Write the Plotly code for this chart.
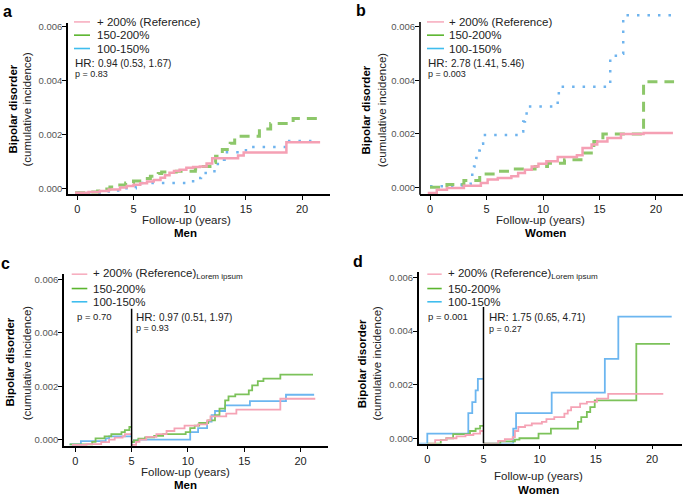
import plotly.graph_objects as go

W, H = 685, 496

# ---------------- data ----------------
SERIES = ["+ 200% (Reference)", "150-200%", "100-150%"]
X_TICKS = [0, 5, 10, 15, 20]
Y_TICKS = [0.0, 0.002, 0.004, 0.006]
Y_TICKTEXT = ["0.000", "0.002", "0.004", "0.006"]
LANDMARK = 5
LANDMARK_TOP = 0.0049

PANEL_LETTERS = ["a", "b", "c", "d"]
GROUPS = ["Men", "Women", "Men", "Women"]
X_TITLE = "Follow-up (years)"
Y_TITLE_1 = "Bipolar disorder"
Y_TITLE_2 = "(cumulative incidence)"
SUBSCRIPT = "Lorem ipsum"
HR_TEXT = ["0.94 (0.53, 1.67)", "2.78 (1.41, 5.46)", "0.97 (0.51, 1.97)", "1.75 (0.65, 4.71)"]
P_TEXT = ["0.83", "0.003", "0.93", "0.27"]
P_EARLY = ["", "", "0.70", "0.001"]

# panel a (men, full follow-up)
A_REF_T = [-0.2, 1.0, 2.0, 2.8, 3.8, 4.4, 5.0, 5.6, 6.2, 6.8, 7.4, 7.8, 8.2, 8.6, 9.1, 9.7, 10.3, 10.9, 11.5, 12.0, 14.3, 14.8, 18.6, 21.6]
A_REF_Y = [-0.00017, -0.00014, -0.0001, -0.00005, 0.00003, 0.00008, 0.00013, 0.00019, 0.00025, 0.00031, 0.00039, 0.00048, 0.00058, 0.00064, 0.00069, 0.00076, 0.00079, 0.00081, 0.00092, 0.00112, 0.00122, 0.00133, 0.00171, 0.00171]
A_MID_T = [-0.2, 1.2, 1.8, 2.4, 2.9, 3.6, 4.3, 5.0, 5.8, 6.5, 7.2, 7.5, 8.8, 10.5, 11.2, 11.8, 12.3, 12.9, 13.6, 14.0, 16.2, 17.2, 19.2, 21.6]
A_MID_Y = [-0.00017, -0.00014, -0.0001, -0.00003, 0.00005, 0.00012, 0.0002, 0.00027, 0.00036, 0.00045, 0.00055, 0.0006, 0.00063, 0.00072, 0.00081, 0.00096, 0.00119, 0.00144, 0.00167, 0.00193, 0.0022, 0.00241, 0.00259, 0.00259]
A_LOW_T = [0.0, 2.8, 4.2, 5.2, 5.6, 10.3, 11.0, 12.2, 12.5, 13.1, 15.0, 18.7, 21.2]
A_LOW_Y = [-0.00017, -0.00008, 0.0, 0.00006, 0.0002, 0.00038, 0.00057, 0.00075, 0.00106, 0.00134, 0.00153, 0.00176, 0.00176]

# panel b (women, full follow-up)
B_REF_T = [-0.2, 0.6, 1.5, 3.0, 4.5, 5.1, 6.0, 7.2, 7.8, 8.4, 9.0, 9.6, 10.3, 11.3, 13.0, 13.5, 14.3, 14.8, 15.7, 16.9, 18.9, 21.5]
B_REF_Y = [-0.00021, -0.00009, -0.00003, 0.00006, 0.00016, 0.00029, 0.00035, 0.00041, 0.00053, 0.00066, 0.00078, 0.00088, 0.00097, 0.00113, 0.0012, 0.00147, 0.0016, 0.00171, 0.00184, 0.00199, 0.00203, 0.00203]
B_MID_T = [0.0, 1.5, 3.0, 4.4, 5.8, 7.3, 9.3, 10.4, 11.9, 13.6, 14.5, 15.3, 18.9, 21.6]
B_MID_Y = [0.0, 0.0001, 0.00025, 0.0005, 0.0006, 0.00068, 0.00078, 0.0009, 0.00103, 0.00128, 0.00171, 0.00199, 0.00395, 0.00395]
B_LOW_T = [0.0, 2.8, 3.6, 3.9, 4.1, 4.25, 4.4, 4.7, 8.1, 8.25, 8.4, 8.55, 11.3, 11.4, 15.95, 16.7, 17.1, 21.7]
B_LOW_Y = [0.00004, 0.0001, 0.00047, 0.00078, 0.0011, 0.00138, 0.00163, 0.00196, 0.00209, 0.00246, 0.00271, 0.00302, 0.00333, 0.00376, 0.00492, 0.005, 0.00644, 0.00644]

# panel c (men, landmark at 5 years)
C_REF_PRE_T = [-0.3, 1.0, 2.3, 3.0, 3.5, 4.2, 4.4, 5.0]
C_REF_PRE_Y = [-0.0002, -0.00017, -0.0001, 0.0, 0.00007, 0.00012, 0.0002, 0.0002]
C_MID_PRE_T = [-0.5, 1.5, 1.8, 2.6, 3.2, 4.1, 4.4, 4.8, 5.0]
C_MID_PRE_Y = [-0.00018, -0.00009, 0.00004, 0.00012, 0.0002, 0.00028, 0.00035, 0.00047, 0.00047]
C_LOW_PRE_T = [-0.5, 0.5, 2.7, 3.0, 5.0]
C_LOW_PRE_Y = [-0.00018, -0.00006, 0.00004, 0.00012, 0.00012]
C_REF_POST_T = [5.0, 5.4, 5.7, 6.3, 7.2, 8.1, 8.8, 9.7, 10.9, 11.7, 12.0, 13.4, 14.3, 18.2, 21.3]
C_REF_POST_Y = [-0.0002, -0.00009, 0.0, 0.0001, 0.0002, 0.00032, 0.00042, 0.00052, 0.00057, 0.00072, 0.00087, 0.00097, 0.00112, 0.00153, 0.00153]
C_MID_POST_T = [5.0, 5.2, 5.6, 6.2, 7.0, 7.8, 9.8, 10.2, 10.6, 11.0, 11.8, 12.4, 12.8, 13.3, 13.6, 14.2, 15.4, 15.7, 16.2, 16.7, 18.2, 21.1]
C_MID_POST_Y = [-0.0001, -0.00003, 0.00003, 0.00008, 0.00014, 0.0002, 0.00028, 0.00043, 0.00052, 0.00062, 0.00072, 0.00091, 0.00116, 0.00147, 0.00162, 0.00169, 0.00184, 0.00203, 0.00219, 0.00228, 0.00243, 0.00243]
C_LOW_POST_T = [5.0, 5.2, 5.6, 10.2, 10.9, 11.7, 12.1, 12.4, 13.3, 15.5, 18.7, 21.2]
C_LOW_POST_Y = [-0.0001, -0.00003, 0.0, 0.00028, 0.00043, 0.00067, 0.00091, 0.00107, 0.00128, 0.00144, 0.00168, 0.00168]

# panel d (women, landmark at 5 years)
D_REF_PRE_T = [0.1, 0.7, 1.7, 2.6, 3.4, 4.1, 4.7, 5.0]
D_REF_PRE_Y = [-0.0002, -0.00007, 0.0, 0.00007, 0.00012, 0.00017, 0.00027, 0.00027]
D_MID_PRE_T = [0.0, 1.2, 1.7, 2.3, 3.8, 4.3, 4.7, 5.0]
D_MID_PRE_Y = [-0.0002, -0.00007, 0.0, 0.00015, 0.00027, 0.00036, 0.00046, 0.00046]
D_LOW_PRE_T = [-0.75, 0.0, 3.65, 4.0, 4.3, 4.5, 4.95]
D_LOW_PRE_Y = [-0.0002, 0.00017, 0.00094, 0.00135, 0.00179, 0.00222, 0.00222]
D_REF_POST_T = [5.0, 6.3, 6.9, 7.6, 7.8, 8.1, 8.7, 9.3, 10.2, 10.6, 11.3, 12.2, 12.5, 12.8, 13.6, 14.2, 15.1, 16.1, 21.0]
D_REF_POST_Y = [-0.0002, -0.0001, -0.00003, 0.00004, 0.00027, 0.00042, 0.00048, 0.00055, 0.00061, 0.00071, 0.00079, 0.00092, 0.00104, 0.00116, 0.00129, 0.00136, 0.00148, 0.00166, 0.00166]
D_MID_POST_T = [5.0, 6.5, 7.8, 8.2, 9.9, 11.0, 13.4, 13.7, 14.2, 14.5, 14.9, 18.6, 21.6]
D_MID_POST_Y = [-0.0002, -0.00012, -0.00005, 0.0, 0.00017, 0.00036, 0.00061, 0.00079, 0.00098, 0.00116, 0.00141, 0.00352, 0.00352]
D_LOW_POST_T = [5.0, 7.65, 7.9, 11.07, 15.8, 17.0, 21.75]
D_LOW_POST_Y = [-0.0002, 0.00036, 0.00094, 0.0017, 0.00296, 0.00454, 0.00454]

# ---------------- style ----------------
FONT = "Liberation Sans, Arial, Helvetica, sans-serif"
COL_AB = ["#F5A0B4", "#8DC76A", "#6FB4EE"]
COL_CD = ["#F5A3B5", "#7CC25A", "#6CB6F0"]
COL_LEG = ["#F7AFC0", "#5BB52E", "#3FBDEE"]


def px(x):
    return x / W


def py(y):
    return 1 - y / H


fig = go.Figure()

# axis geometry (pixels) and ranges
AX = {
    1: dict(xd=(68, 330), yd=(21, 193), xr=(-0.83, 22.48), yr=(-0.000222, 0.006148)),
    2: dict(xd=(420, 683), yd=(10, 193), xr=(-0.885, 22.39), yr=(-0.00026, 0.00656)),
    3: dict(xd=(64, 328), yd=(273, 446), xr=(-1.0, 22.43), yr=(-0.00025, 0.00621)),
    4: dict(xd=(418.7, 681.7), yd=(271, 443.3), xr=(-0.765, 22.64), yr=(-0.000197, 0.00621)),
}


def seg(t1, y1, t2=None, y2=None):
    if t2 is None:
        return t1, y1
    return t1 + [None] + t2, y1 + [None] + y2


def add(i, t, y, color, width, dash="solid"):
    xa = "x" if i == 1 else f"x{i}"
    ya = "y" if i == 1 else f"y{i}"
    fig.add_trace(go.Scatter(x=t, y=y, mode="lines", line=dict(color=color, width=width, dash=dash, shape="hv"),
                             xaxis=xa, yaxis=ya, showlegend=False, hoverinfo="skip", connectgaps=False))


# panels a, b
for i, (lt, ly, mt, my, rt, ry) in {
    1: (A_LOW_T, A_LOW_Y, A_MID_T, A_MID_Y, A_REF_T, A_REF_Y),
    2: (B_LOW_T, B_LOW_Y, B_MID_T, B_MID_Y, B_REF_T, B_REF_Y),
}.items():
    add(i, lt, ly, COL_AB[2], 2.5, "2.5px,8px")
    add(i, mt, my, COL_AB[1], 3, "10px,7px")
    add(i, rt, ry, COL_AB[0], 2.5)

# panels c, d
for i, d in {
    3: ((C_LOW_PRE_T, C_LOW_PRE_Y, C_LOW_POST_T, C_LOW_POST_Y),
        (C_MID_PRE_T, C_MID_PRE_Y, C_MID_POST_T, C_MID_POST_Y),
        (C_REF_PRE_T, C_REF_PRE_Y, C_REF_POST_T, C_REF_POST_Y)),
    4: ((D_LOW_PRE_T, D_LOW_PRE_Y, D_LOW_POST_T, D_LOW_POST_Y),
        (D_MID_PRE_T, D_MID_PRE_Y, D_MID_POST_T, D_MID_POST_Y),
        (D_REF_PRE_T, D_REF_PRE_Y, D_REF_POST_T, D_REF_POST_Y)),
}.items():
    for k, cidx in zip(range(3), [2, 1, 0]):
        t, y = seg(*d[k])
        add(i, t, y, COL_CD[cidx], 1.8)

layout = dict(width=W, height=H, margin=dict(l=0, r=0, t=0, b=0), paper_bgcolor="white", plot_bgcolor="white",
              font=dict(family=FONT, color="#222"))
for i, g in AX.items():
    sx = "xaxis" if i == 1 else f"xaxis{i}"
    sy = "yaxis" if i == 1 else f"yaxis{i}"
    layout[sx] = dict(domain=[px(g["xd"][0]), px(g["xd"][1])], range=list(g["xr"]),
                      anchor="y" if i == 1 else f"y{i}", tickvals=X_TICKS, ticks="outside", ticklen=4,
                      tickwidth=1.2, tickcolor="black", showline=True, linecolor="black", linewidth=1.6,
                      showgrid=False, zeroline=False, tickfont=dict(size=11, color="#222"), fixedrange=True,
                      ticklabelstandoff=0)
    layout[sy] = dict(domain=[py(g["yd"][1]), py(g["yd"][0])], range=list(g["yr"]),
                      anchor="x" if i == 1 else f"x{i}", tickvals=Y_TICKS, ticktext=Y_TICKTEXT,
                      ticks="outside", ticklen=4, tickwidth=1.2, tickcolor="black", showline=(i != 2),
                      linecolor="black", linewidth=1.6, showgrid=False, zeroline=False,
                      tickfont=dict(size=9.5, color="#555"), fixedrange=True, ticklabelstandoff=-2)
fig.update_layout(**layout)

shapes = []
# y axis line of panel b drawn shorter than its data range
shapes.append(dict(type="line", xref="paper", yref="paper", x0=px(420), x1=px(420), y0=py(193.5), y1=py(20),
                   line=dict(color="black", width=1.6)))
# landmark lines
for i in (3, 4):
    shapes.append(dict(type="line", xref=f"x{i}", yref=f"y{i}", x0=LANDMARK, x1=LANDMARK,
                       y0=AX[i]["yr"][0], y1=LANDMARK_TOP, line=dict(color="black", width=1.5)))

ann = []


def text(x, y, s, size=11.5, anchor="left", color="#222", angle=0, yanchor="middle"):
    ann.append(dict(x=px(x), y=py(y), xref="paper", yref="paper", text=s, showarrow=False, xanchor=anchor,
                    yanchor=yanchor, textangle=angle, borderpad=0,
                    font=dict(size=size, color=color, family=FONT)))


P = {
    1: dict(letter=(7.5, 10), samp=(74, 90), tx=96, rows=(20, 33.3, 46.7), hr=(74, 61), p=(74, 72), pe=None,
            yt=(13, 27, 108), xt=(186.7, 218.5), gl=(185, 231.5), sub=False),
    2: dict(letter=(361, 9), samp=(427, 444), tx=448.3, rows=(20, 33.3, 46.7), hr=(427, 61), p=(427, 72), pe=None,
            yt=(366, 381.7, 108), xt=(540.7, 218.5), gl=(545, 231.5), sub=False),
    3: dict(letter=(5, 263), samp=(71.7, 87.3), tx=91.7, rows=(273.3, 287.7, 301), hr=(135, 316), p=(135, 327.3),
            pe=(76, 316), yt=(10, 26.7, 362), xt=(185.7, 471.5), gl=(185, 485), sub=True),
    4: dict(letter=(358, 261), samp=(427.3, 441.7), tx=447.3, rows=(273.3, 287.7, 301), hr=(488.3, 316),
            p=(488.3, 328.3), pe=(427.3, 316), yt=(361.7, 377, 363), xt=(538, 476), gl=(538, 489.5), sub=True),
}

for i, q in P.items():
    text(q["letter"][0], q["letter"][1], f"<b>{PANEL_LETTERS[i-1]}</b>", size=16, anchor="center", color="black")
    for k in range(3):
        yy = q["rows"][k]
        shapes.append(dict(type="line", xref="paper", yref="paper", x0=px(q["samp"][0]), x1=px(q["samp"][1]),
                           y0=py(yy), y1=py(yy), line=dict(color=COL_LEG[k], width=1.6)))
        lab = SERIES[k]
        if k == 0 and q["sub"]:
            lab = lab + f"<sub>{SUBSCRIPT}</sub>"
        text(q["tx"], yy, lab, size=11.5)
    text(q["hr"][0], q["hr"][1], "HR:", size=11.5)
    text(q["hr"][0] + 22.5, q["hr"][1] + 0.5, HR_TEXT[i-1], size=10)
    text(q["p"][0], q["p"][1], f"p = {P_TEXT[i-1]}", size=9)
    if q["pe"]:
        text(q["pe"][0], q["pe"][1], f"p = {P_EARLY[i-1]}", size=9.5)
    text(q["yt"][0], q["yt"][2], f"<b>{Y_TITLE_1}</b>", size=11.5, anchor="center", angle=-90, color="black")
    text(q["yt"][1], q["yt"][2], Y_TITLE_2, size=11.5, anchor="center", angle=-90)
    text(q["xt"][0], q["xt"][1], X_TITLE, size=11.5, anchor="center")
    text(q["gl"][0], q["gl"][1], f"<b>{GROUPS[i-1]}</b>", size=11.5, anchor="center", color="black")

fig.update_layout(shapes=shapes, annotations=ann)
fig.write_html("out.html", config={"displayModeBar": False},
               post_script="document.body.style.margin='0';document.body.style.padding='0';")
